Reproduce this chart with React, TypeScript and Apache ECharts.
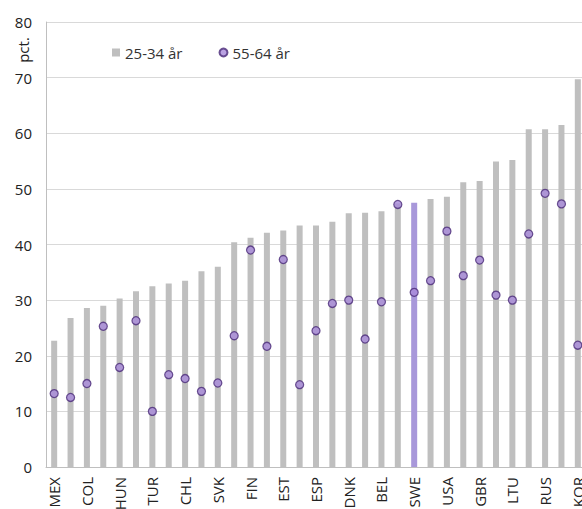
import React, { useEffect, useRef } from "react";
import * as echarts from "echarts";

const categories = [
  "MEX", "ITA", "COL", "CRI", "HUN", "DEU", "TUR", "CZE", "CHL", "PRT", "SVK",
  "AUT", "FIN", "GRC", "EST", "POL", "ESP", "NZL", "DNK", "LVA", "BEL", "ISR",
  "SWE", "NOR", "USA", "AUS", "GBR", "LUX", "LTU", "CAN", "RUS", "JPN", "KOR",
];
const age2534 = [
  22.7, 26.8, 28.6, 29.0, 30.3, 31.6, 32.5, 33.0, 33.5, 35.2, 36.0,
  40.4, 41.2, 42.1, 42.5, 43.4, 43.4, 44.1, 45.6, 45.7, 46.0, 47.4,
  47.5, 48.2, 48.6, 51.2, 51.4, 54.9, 55.2, 60.7, 60.7, 61.5, 69.7,
];
const age5564 = [
  13.2, 12.5, 15.0, 25.3, 17.9, 26.3, 10.0, 16.6, 15.9, 13.6, 15.1,
  23.6, 39.0, 21.7, 37.3, 14.8, 24.5, 29.4, 30.0, 23.0, 29.7, 47.2,
  31.4, 33.5, 42.4, 34.4, 37.2, 30.9, 30.0, 41.9, 49.2, 47.3, 21.9,
];
const highlight = "SWE";
const legendNames = ["25-34 år", "55-64 år"];

const FONT = "'Open Sans', 'Noto Sans', sans-serif";

export default function App() {
  const ref = useRef<HTMLDivElement>(null);
  useEffect(() => {
    if (!ref.current) return;
    const chart = echarts.init(ref.current, undefined, { renderer: "svg" });
    chart.setOption({
      animation: false,
      textStyle: { fontFamily: FONT },
      legend: {
        left: 107,
        top: 40,
        itemGap: 36,
        itemWidth: 8,
        itemHeight: 8,
        textStyle: { fontFamily: FONT, fontSize: 15, color: "#333" },
        data: [
          { name: legendNames[0], icon: "rect" },
          { name: legendNames[1], icon: "circle" },
        ],
      },
      graphic: [
        {
          type: "text",
          x: 23,
          y: 50,
          rotation: Math.PI / 2,
          style: {
            text: "pct.",
            fontFamily: FONT,
            fontSize: 15,
            fill: "#222",
            align: "center",
            verticalAlign: "middle",
          },
        },
      ],
      grid: {
        left: 46,
        right: -4,
        top: 22,
        bottom: 42,
        containLabel: false,
        outerBoundsMode: "none",
      },
      xAxis: {
        type: "category",
        data: categories,
        boundaryGap: true,
        axisLine: { lineStyle: { color: "#BFBFBF" } },
        axisTick: { show: false },
        axisLabel: {
          interval: 1,
          rotate: 90,
          margin: 10,
          fontFamily: FONT,
          fontSize: 15,
          color: "#222",
        },
      },
      yAxis: {
        type: "value",
        min: 0,
        max: 80,
        interval: 10,
        axisLine: { show: true, lineStyle: { color: "#BFBFBF" } },
        axisTick: { show: false },
        axisLabel: { margin: 14, fontFamily: FONT, fontSize: 15, color: "#222" },
        splitLine: { lineStyle: { color: "#D9D9D9", width: 1 } },
      },
      series: [
        {
          name: legendNames[0],
          type: "bar",
          barWidth: 6,
          itemStyle: { color: "#BFBFBF" },
          data: age2534.map((v, i) =>
            categories[i] === highlight
              ? { value: v, itemStyle: { color: "#A898DA" } }
              : v
          ),
          z: 2,
        },
        {
          name: legendNames[1],
          type: "scatter",
          symbol: "circle",
          symbolSize: 8,
          itemStyle: { color: "#A98BDB", borderColor: "#4A2A78", borderWidth: 1.3 },
          data: age5564,
          z: 3,
        },
      ],
    });
    return () => chart.dispose();
  }, []);
  return (
    <div
      ref={ref}
      style={{ position: "fixed", left: 0, top: 0, width: 582, height: 509, background: "#fff" }}
    />
  );
}
